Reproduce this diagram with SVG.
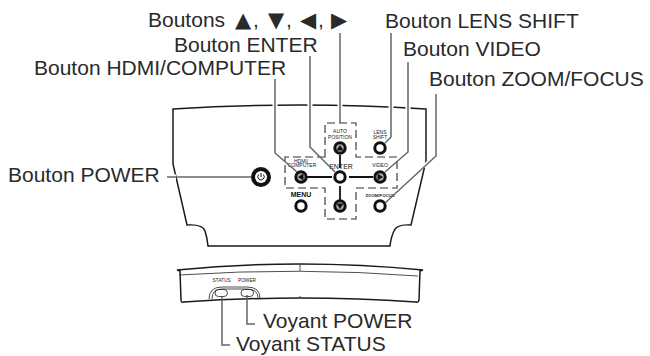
<svg xmlns="http://www.w3.org/2000/svg" width="650" height="356" viewBox="0 0 650 356">
<style>
.lb{font-family:"Liberation Sans",Arial,sans-serif;font-size:21px;fill:#2a2a2a}
.g{font-family:"DejaVu Sans",sans-serif;font-size:21px;fill:#2a2a2a}
.s{font-family:"Liberation Sans",Arial,sans-serif;font-size:5px;fill:#222;text-anchor:middle}
.f{font-size:4.800px}
.z{font-size:4.300px;font-weight:bold}
.m{font-family:"Liberation Sans",Arial,sans-serif;font-size:7px;fill:#111;text-anchor:middle}
.o{fill:none;stroke:#1a1a1a;stroke-width:1.5}
.t{fill:none;stroke:#222;stroke-width:.8}
.d{fill:none;stroke:#777;stroke-width:1.700;stroke-dasharray:8 4}
.c{fill:none;stroke:#666;stroke-width:1.500}
.h{fill:none;stroke:#fff;stroke-width:5}
.b{fill:#fff;stroke:#111;stroke-width:3}
.a{fill:#aaa;stroke:#111;stroke-width:3}
.k{fill:none;stroke:#111;stroke-width:1.800}
</style>
<g id="panel">
<path class="o" d="M173 164V109Q300 101 426 109V161L411 225Q396 224 394 231Q391 237 390 246H208Q207 237 205 231Q203 224 187 225Z"/>
<path class="d" d="M325 157V123H356V157H397V188H356V219H325V188H285V157Z"/>
<path class="k" d="M307 177H332M349 177H373M340 155V168M340 186V200"/>
</g>
<g id="btn-up"><circle class="a" cx="340" cy="148" r="5.2"/><path d="M340 145L343.500 150.500H336.500Z" fill="#111"/><text class="s" x="340" y="133">AUTO</text><text class="s" x="340" y="138.500">POSITION</text></g>
<g id="btn-lens"><circle class="b" cx="380" cy="148" r="5.2"/><text class="s" x="380" y="134">LENS</text><text class="s" x="380" y="139">SHIFT</text></g>
<g id="btn-hdmi"><circle class="a" cx="301" cy="177" r="5.2"/><path d="M298 177L303.500 173.500V180.500Z" fill="#111"/><text class="s" x="301" y="162.500">HDMI/</text><text class="s" x="302" y="167">COMPUTER</text></g>
<g id="btn-enter"><circle class="b" cx="340" cy="177" r="5.2"/><text class="m" x="341" y="169">ENTER</text></g>
<g id="btn-video"><circle class="a" cx="380" cy="177" r="5.2"/><path d="M383 177L377.500 173.500V180.500Z" fill="#111"/><text class="s" x="380" y="167">VIDEO</text></g>
<g id="btn-menu"><circle class="b" cx="301" cy="206" r="5.2"/><text class="m" x="301" y="197" font-weight="bold">MENU</text></g>
<g id="btn-down"><circle class="a" cx="340" cy="206" r="5.2"/><path d="M340 209L343.500 203.500H336.500Z" fill="#111"/></g>
<g id="btn-zoom"><circle class="b" cx="380" cy="206" r="5.2"/><text class="s z" x="380" y="197">ZOOM/FOCUS</text></g>
<g id="btn-power"><circle cx="261" cy="177" r="10" fill="#111"/><circle cx="261" cy="177" r="6" fill="#fff"/><path d="M261 173V177M258.700 174.500A3.200 3.200 0 1 0 263.300 174.500" fill="none" stroke="#111" stroke-width="1"/></g>
<g id="device">
<path class="o" d="M177 270Q300 258 423 270L420 271L419 300Q418 303 416 302Q300 294 184 302Q181 303 181 300L180 271Z"/>
<path class="t" d="M179 275Q300 267 418 276M300 264V271M300 296V298"/>
<path class="t" d="M209 299Q209 287 222 287H247Q260 287 260 298M212 299Q212 289 222 289H247Q258 289 258 298"/>
<rect class="t" x="215" y="289.500" width="12.500" height="7" rx="3.500" stroke-width="1"/>
<rect class="t" x="241" y="289.500" width="12.500" height="7" rx="3.500" stroke-width="1"/>
<text class="s f" x="221.500" y="282">STATUS</text>
<text class="s f" x="247" y="282">POWER</text>
</g>
<g id="connectors">
<path class="h" d="M275 101V112M310 100V111M340 100V111M391 101V112M408 102V113M171 177H176M431 161L424 167"/>
<path class="c" d="M275 79V153L297 172"/>
<path class="c" d="M310 56V147L335 172"/>
<path class="c" d="M340 33V123"/>
<path class="c" d="M391 33V137L385 143"/>
<path class="c" d="M408 62V152L385 172"/>
<path class="c" d="M436 94V156L385 203"/>
<path class="c" d="M167 177H251" stroke-width="2"/>
<path class="c" d="M222 297V345H230"/>
<path class="c" d="M247 295V324H255"/>
</g>
<g id="labels">
<text class="lb" x="148" y="27">Boutons <tspan class="g" x="235">▲</tspan><tspan x="253">,</tspan><tspan class="g" x="268">▼</tspan><tspan x="286">,</tspan><tspan class="g" x="300">◀</tspan><tspan x="318">,</tspan><tspan class="g" x="331">▶</tspan></text>
<text class="lb" x="174" y="52">Bouton ENTER</text>
<text class="lb" x="34" y="75">Bouton HDMI/COMPUTER</text>
<text class="lb" x="385" y="28">Bouton LENS SHIFT</text>
<text class="lb" x="403" y="56">Bouton VIDEO</text>
<text class="lb" x="429" y="86">Bouton ZOOM/FOCUS</text>
<text class="lb" x="8" y="182">Bouton POWER</text>
<text class="lb" x="263" y="328">Voyant POWER</text>
<text class="lb" x="236" y="351">Voyant STATUS</text>
</g>
</svg>
